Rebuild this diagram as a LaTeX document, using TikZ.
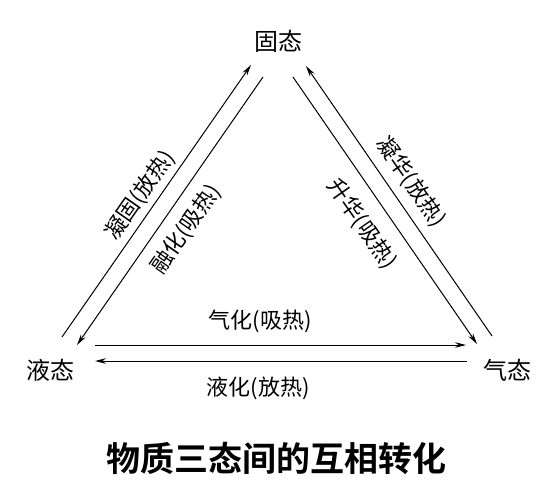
\documentclass[tikz,border=0pt]{standalone}
\usepackage{fontspec}
\newfontfamily\cjk{Noto Sans CJK SC}
\newfontfamily\cjkbold{Noto Sans CJK SC Bold}
\usetikzlibrary{arrows.meta}
\begin{document}
\begin{tikzpicture}[x=1pt,y=-1pt,
  state/.style={font=\cjk\fontsize{24}{26}\selectfont, inner sep=0pt},
  lbl/.style={font=\cjk\fontsize{22}{24}\selectfont, inner sep=0pt},
  conv/.style={draw=black, line width=1pt, -{Stealth[length=11pt,width=5.5pt]}}]
\useasboundingbox (0,0) rectangle (554,484);
\fill[white] (0,0) rectangle (554,484);
% states
\node[state] (solid) at (278,41) {固态};
\node[state] (liquid) at (51,370) {液态};
\node[state] (gas) at (507,370) {气态};
% endpoints
\coordinate (lo1) at (62,337);  \coordinate (lo2) at (251,65);
\coordinate (li1) at (263,77);  \coordinate (li2) at (77,345);
\coordinate (ro1) at (492,336); \coordinate (ro2) at (306,66);
\coordinate (ri1) at (293,77);  \coordinate (ri2) at (477,344);
\coordinate (bu1) at (95,345);  \coordinate (bu2) at (466,345);
\coordinate (bl1) at (467,361); \coordinate (bl2) at (95,361);
% connectors
\draw[conv] (lo1) -- (lo2);
\draw[conv] (li1) -- (li2);
\draw[conv] (ro1) -- (ro2);
\draw[conv] (ri1) -- (ri2);
\draw[conv] (bu1) -- (bu2);
\draw[conv] (bl1) -- (bl2);
% labels
\node[lbl, rotate=55] (l1) at (140,195) {凝固(放热)};
\node[lbl, rotate=55] (l2) at (186,229) {融化(吸热)};
\node[lbl, rotate=-55] (l3) at (411,182) {凝华(放热)};
\node[lbl, rotate=-55] (l4) at (362,224) {升华(吸热)};
\node[lbl] (l5) at (260,321) {气化(吸热)};
\node[lbl] (l6) at (258,388) {液化(放热)};
% title
\node[font=\cjkbold\fontsize{34}{36}\selectfont, inner sep=0pt] (title) at (276,458) {物质三态间的互相转化};
\end{tikzpicture}
\end{document}
